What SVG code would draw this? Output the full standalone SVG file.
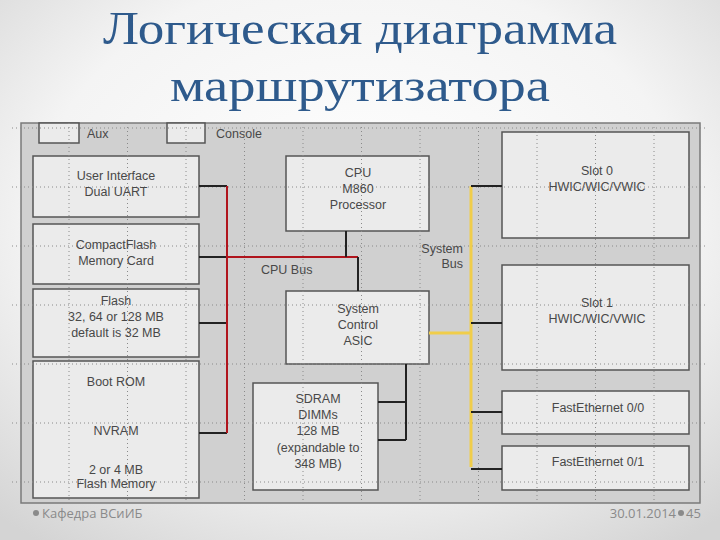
<svg xmlns="http://www.w3.org/2000/svg" width="720" height="540" viewBox="0 0 720 540">
<defs>
<radialGradient id="bg" cx="50%" cy="40%" r="75%">
<stop offset="0" stop-color="#ffffff"/>
<stop offset="0.6" stop-color="#f4f4f4"/>
<stop offset="1" stop-color="#d4d4d4"/>
</radialGradient>
<style>
.title{font-family:"Liberation Serif","DejaVu Serif",serif;font-size:47px;fill:#2E5A8C;text-anchor:middle}
.box{fill:#ebebeb;stroke:#555;stroke-width:1.5}
.t{font-family:"Liberation Sans",Arial,sans-serif;font-size:12.5px;fill:#484848;text-anchor:middle}
.tl{font-family:"Liberation Sans",Arial,sans-serif;font-size:12.5px;fill:#484848}
.grid{stroke:#8a8a8a;stroke-width:1;stroke-dasharray:1 3;fill:none}
.blk{stroke:#222;stroke-width:2;fill:none}
.red{stroke:#b0141c;stroke-width:2;fill:none}
.yel{stroke:#f0cd4a;stroke-width:3;fill:none}
.foot{font-family:"Open Sans","Noto Sans",sans-serif;font-size:13px;fill:#8a8a8a}
</style>
</defs>
<rect width="720" height="540" fill="url(#bg)"/>
<text class="title" x="360" y="44" textLength="514" lengthAdjust="spacingAndGlyphs">Логическая диаграмма</text>
<text class="title" x="360" y="101" textLength="380" lengthAdjust="spacingAndGlyphs">маршрутизатора</text>

<rect x="21" y="123" width="679" height="380" fill="#d0d0d0" stroke="#7a7a7a" stroke-width="1.5"/>

<g id="aux"><rect class="box" x="39" y="123" width="40" height="20"/><text class="tl" x="87" y="138">Aux</text></g>
<g id="console"><rect class="box" x="167" y="123" width="38" height="20"/><text class="tl" x="216" y="138">Console</text></g>

<g id="user-interface"><rect class="box" x="33" y="156" width="166" height="61"/></g>
<g id="compactflash"><rect class="box" x="33" y="224" width="166" height="60"/></g>
<g id="flash"><rect class="box" x="33" y="289" width="166" height="68"/></g>
<g id="bootrom"><rect class="box" x="33" y="361" width="166" height="137"/></g>
<g id="cpu"><rect class="box" x="286" y="156" width="143" height="75"/></g>
<g id="asic"><rect class="box" x="286" y="291" width="143" height="73"/></g>
<g id="sdram"><rect class="box" x="253" y="383" width="125" height="107"/></g>
<g id="slot0"><rect class="box" x="502" y="132" width="187" height="106"/></g>
<g id="slot1"><rect class="box" x="502" y="265" width="187" height="105"/></g>
<g id="fe00"><rect class="box" x="502" y="391" width="187" height="43"/></g>
<g id="fe01"><rect class="box" x="502" y="446" width="187" height="44"/></g>

<g id="grid" class="grid">
<path d="M69 123V503M127.5 123V503M186 123V503M244.5 123V503M303 123V503M361.5 123V503M420 123V503M478.5 123V503M537 123V503M595.5 123V503M654 123V503"/>
<path d="M12 128H708M12 187H708M12 246H708M12 305H708M12 364H708M12 423H708M12 482H708"/>
</g>

<g id="connectors">
<path class="blk" d="M199 186H227M199 257H227M199 323H227M199 433H227"/>
<path class="red" d="M227 186V433M227 257H358"/>
<path class="blk" d="M346 231V257M358 257V291"/>
<path class="blk" d="M406 364V440M378 402H406M378 440H406"/>
<path class="yel" d="M429 333H471M471 186V467"/>
<path class="blk" d="M471 186H502M471 323H502M471 412H502M471 469H502"/>
</g>

<g id="labels">
<text class="t" x="116" y="180">User Interface</text>
<text class="t" x="116" y="196">Dual UART</text>
<text class="t" x="116" y="249">CompactFlash</text>
<text class="t" x="116" y="265">Memory Card</text>
<text class="t" x="116" y="305">Flash</text>
<text class="t" x="116" y="321">32, 64 or 128 MB</text>
<text class="t" x="116" y="337">default is 32 MB</text>
<text class="t" x="116" y="386">Boot ROM</text>
<text class="t" x="116" y="435">NVRAM</text>
<text class="t" x="116" y="474">2 or 4 MB</text>
<text class="t" x="116" y="488">Flash Memory</text>
<text class="t" x="358" y="177">CPU</text>
<text class="t" x="358" y="193">M860</text>
<text class="t" x="358" y="209">Processor</text>
<text class="t" x="358" y="313">System</text>
<text class="t" x="358" y="329">Control</text>
<text class="t" x="358" y="345">ASIC</text>
<text class="tl" x="261" y="274">CPU Bus</text>
<text class="tl" x="463" y="253" text-anchor="end">System</text>
<text class="tl" x="463" y="268" text-anchor="end">Bus</text>
<text class="t" x="318" y="403">SDRAM</text>
<text class="t" x="318" y="419">DIMMs</text>
<text class="t" x="318" y="435">128 MB</text>
<text class="t" x="318" y="452">(expandable to</text>
<text class="t" x="318" y="468">348 MB)</text>
<text class="t" x="597" y="175">Slot 0</text>
<text class="t" x="597" y="191">HWIC/WIC/VWIC</text>
<text class="t" x="597" y="307">Slot 1</text>
<text class="t" x="597" y="323">HWIC/WIC/VWIC</text>
<text class="t" x="598" y="412">FastEthernet 0/0</text>
<text class="t" x="598" y="466">FastEthernet 0/1</text>
</g>

<g id="footer">
<circle cx="36" cy="513" r="3" fill="#8a8a8a"/>
<text class="foot" x="42" y="518">Кафедра ВСиИБ</text>
<text class="foot" x="676" y="518" text-anchor="end">30.01.2014</text>
<circle cx="681" cy="513" r="3" fill="#8a8a8a"/>
<text class="foot" x="686" y="518">45</text>
</g>
</svg>
